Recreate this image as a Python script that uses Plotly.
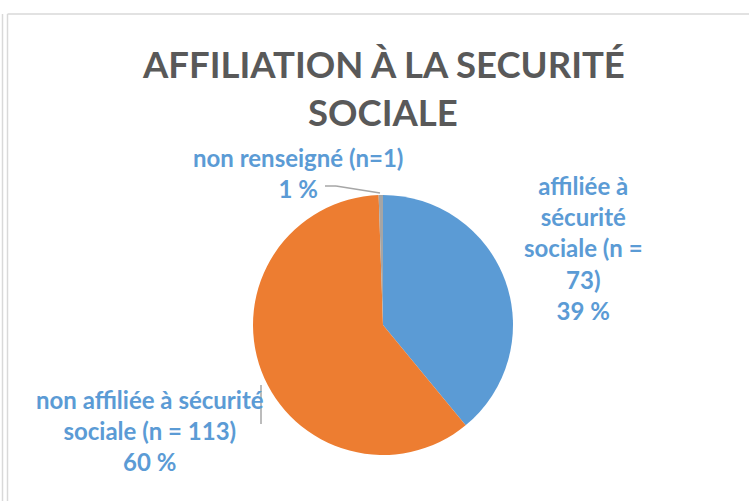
import plotly.graph_objects as go

categories = ["affiliée à<br>sécurité<br>sociale (n =<br>73)", "non affiliée à sécurité<br>sociale (n = 113)", "non renseigné (n=1)"]
counts = [73, 113, 1]
pct_labels = ["39 %", "60 %", "1 %"]
colors = ["#5B9BD5", "#ED7D31", "#A5A5A5"]
title_lines = ["AFFILIATION À LA SECURITÉ", "SOCIALE"]

W, H = 749, 501
cx, cy, r = 383, 325, 130

fig = go.Figure()
fig.add_trace(go.Pie(
    values=counts,
    labels=[c.replace("<br>", " ") for c in categories],
    marker=dict(colors=colors, line=dict(color="white", width=0)),
    sort=False, direction="clockwise", rotation=0,
    textinfo="none", hoverinfo="label+value+percent",
    domain=dict(x=[(cx - r) / W, (cx + r) / W], y=[1 - (cy + r) / H, 1 - (cy - r) / H]),
    showlegend=False,
))

font_lbl = dict(family="Lato, Open Sans, sans-serif", size=24, color="#5B9BD5")
label_pos = [(583, 248), (150, 430), (298, 173)]
for cat, p, (x, y) in zip(categories, pct_labels, label_pos):
    fig.add_annotation(x=x / W, y=1 - y / H, xref="paper", yref="paper",
                       text="<b>" + cat + "<br>" + p + "</b>", showarrow=False,
                       font=font_lbl, align="center", xanchor="center", yanchor="middle")

for t, ty in zip(title_lines, [64, 112]):
    fig.add_annotation(x=cx / W, y=1 - ty / H, xref="paper", yref="paper",
                       text="<b>" + t + "</b>", showarrow=False,
                       font=dict(family="Lato, Open Sans, sans-serif", size=36.5, color="#595959"),
                       align="center", xanchor="center", yanchor="middle")

def px_line(x0, y0, x1, y1, color, width=1.5):
    fig.add_shape(type="line", xref="paper", yref="paper",
                  x0=x0 / W, y0=1 - y0 / H, x1=x1 / W, y1=1 - y1 / H,
                  line=dict(color=color, width=width))

# leader lines
px_line(325, 186, 336, 186, "#A6A6A6")
px_line(336, 186, 380, 193, "#A6A6A6")
px_line(261, 385, 261, 424, "#A6A6A6")
# frame
px_line(2.5, 14, 2.5, 501, "#D9D9D9", 1.5)
px_line(7.5, 14, 7.5, 501, "#D9D9D9", 1.5)
px_line(7.5, 14, 749, 14, "#D9D9D9", 1.5)

fig.update_layout(width=W, height=H, margin=dict(l=0, r=0, t=0, b=0),
                  paper_bgcolor="white", plot_bgcolor="white")
fig.write_html("out.html", config={"displayModeBar": False},
               post_script="document.body.style.margin='0';")
